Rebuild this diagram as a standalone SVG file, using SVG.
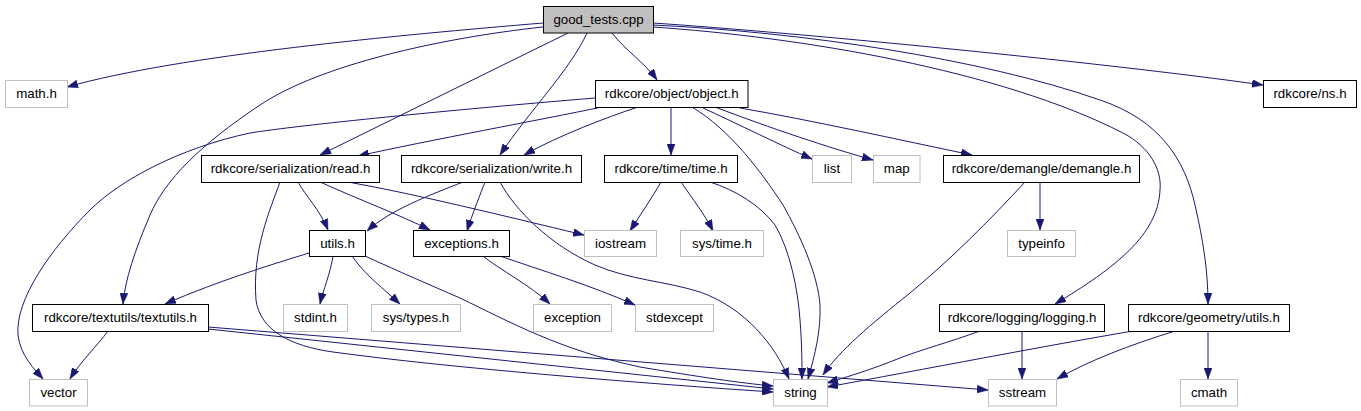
<svg xmlns="http://www.w3.org/2000/svg" width="1361" height="411" viewBox="0 0 1361 411">
<style>
.n rect{fill:#ffffff;stroke:#000000;stroke-width:1}
.n.g rect{stroke:#bfbfbf}
.n.root rect{fill:#bfbfbf;stroke:#000000}
.n text{font-family:"Liberation Sans",Arial,Helvetica,sans-serif;font-size:13.3px;fill:#000000;text-anchor:middle}
.e path{fill:none;stroke:#191970;stroke-width:1;marker-end:url(#ah)}
</style>
<defs>
<marker id="ah" viewBox="0 0 11 8" refX="11" refY="4" markerWidth="11" markerHeight="8" markerUnits="userSpaceOnUse" orient="auto">
<polygon points="0,0 11,4 0,8" fill="#191970" stroke="#191970" stroke-width="0.5"/>
</marker>
</defs>
<rect x="0" y="0" width="1361" height="411" fill="#ffffff"/>
<g id="edges" class="e">
<path d="M543,23 C400,35 180,55 67,87"/>
<path d="M543,27 C440,38 320,65 260,105 C200,145 165,180 150,215 C135,250 125,280 123,304"/>
<path d="M568,33 L320,155"/>
<path d="M587,33 C570,70 530,110 500,155"/>
<path d="M612,33 C625,50 645,63 657,80"/>
<path d="M653,23 C800,33 1100,62 1263,85"/>
<path d="M653,25 C800,32 980,58 1100,100 C1160,120 1185,160 1195,205 C1203,240 1208,270 1208,304"/>
<path d="M653,27 C800,37 1000,70 1123,133 C1150,147 1162,170 1160,190 C1158,235 1115,268 1055,304"/>
<path d="M595,98 C450,110 300,125 250,133 C180,148 120,180 90,210 C50,250 15,300 18,335 C20,355 35,370 43,379"/>
<path d="M602,107 C540,120 430,140 358,156"/>
<path d="M638,107 C605,118 560,135 524,155"/>
<path d="M671,107 L671,155"/>
<path d="M692,107 C730,130 760,170 783,205 C800,235 818,275 820,305 C821,330 815,355 808,379"/>
<path d="M701,107 C740,125 780,145 812,159"/>
<path d="M715,107 C770,128 830,148 873,160"/>
<path d="M740,108 C810,120 900,140 972,155"/>
<path d="M661,182 C652,198 640,215 630,231"/>
<path d="M681,182 C692,198 705,215 713,231"/>
<path d="M710,182 C735,190 760,205 775,225 C790,250 798,290 800,320 C802,345 802,365 802,379"/>
<path d="M1040,182 L1040,230"/>
<path d="M1025,182 C990,220 950,260 910,293 C870,325 840,350 823,375"/>
<path d="M298,182 C305,195 320,210 328,230"/>
<path d="M320,182 C360,200 400,215 430,230"/>
<path d="M348,182 C420,195 500,215 584,235"/>
<path d="M280,182 C270,210 252,250 256,300 C260,330 290,346 333,352 C450,368 650,384 773,392"/>
<path d="M463,182 C430,195 390,210 367,231"/>
<path d="M485,182 C480,195 472,215 467,231"/>
<path d="M500,182 C515,210 550,245 595,265 C630,280 665,281 700,292 C745,308 775,345 789,379"/>
<path d="M483,256 C500,270 530,285 550,304"/>
<path d="M500,256 C540,270 590,285 635,305"/>
<path d="M309,253 C280,262 220,280 165,304"/>
<path d="M333,256 C330,275 323,290 320,304"/>
<path d="M352,256 C365,275 385,290 400,304"/>
<path d="M365,256 C400,272 430,285 460,298 C510,322 560,350 640,367 C700,377 740,383 773,386"/>
<path d="M108,331 C98,345 80,362 70,379"/>
<path d="M208,329 L773,389"/>
<path d="M208,327 L988,390"/>
<path d="M980,331 C950,342 920,350 900,358 C870,370 850,376 827,383"/>
<path d="M1133,331 C1050,345 920,370 827,387"/>
<path d="M1022,331 L1022,379"/>
<path d="M1175,331 C1130,345 1090,360 1057,379"/>
<path d="M1208,331 L1208,379"/>
</g>
<g id="n_good_tests" class="n root"><rect x="543.5" y="6.5" width="110" height="26.5"/><text x="598.5" y="24">good_tests.cpp</text></g>
<g id="n_math" class="n g"><rect x="5.5" y="80.5" width="62" height="27"/><text x="36.5" y="98">math.h</text></g>
<g id="n_object" class="n"><rect x="595.5" y="80.5" width="152.5" height="27"/><text x="671.75" y="98">rdkcore/object/object.h</text></g>
<g id="n_ns" class="n"><rect x="1263.5" y="80.5" width="93" height="27"/><text x="1310" y="98">rdkcore/ns.h</text></g>
<g id="n_read" class="n"><rect x="201.5" y="155.5" width="178" height="27"/><text x="290.5" y="173">rdkcore/serialization/read.h</text></g>
<g id="n_write" class="n"><rect x="401.5" y="155.5" width="180" height="27"/><text x="491.5" y="173">rdkcore/serialization/write.h</text></g>
<g id="n_time" class="n"><rect x="604.5" y="155.5" width="133" height="27"/><text x="671" y="173">rdkcore/time/time.h</text></g>
<g id="n_list" class="n g"><rect x="812.5" y="155.5" width="39" height="27"/><text x="832" y="173">list</text></g>
<g id="n_map" class="n g"><rect x="873.5" y="155.5" width="46.5" height="27"/><text x="896.75" y="173">map</text></g>
<g id="n_demangle" class="n"><rect x="943.5" y="155.5" width="196" height="27"/><text x="1041.5" y="173">rdkcore/demangle/demangle.h</text></g>
<g id="n_utils" class="n"><rect x="309.5" y="230.5" width="56" height="26"/><text x="337.5" y="248">utils.h</text></g>
<g id="n_exceptions" class="n"><rect x="413.5" y="230.5" width="96" height="26"/><text x="461.5" y="248">exceptions.h</text></g>
<g id="n_iostream" class="n g"><rect x="584.5" y="230.5" width="72" height="26"/><text x="620.5" y="248">iostream</text></g>
<g id="n_systime" class="n g"><rect x="680.5" y="230.5" width="83" height="26"/><text x="722" y="248">sys/time.h</text></g>
<g id="n_typeinfo" class="n g"><rect x="1007.5" y="230.5" width="68" height="26"/><text x="1041.5" y="248">typeinfo</text></g>
<g id="n_textutils" class="n"><rect x="32.5" y="304.5" width="176" height="27"/><text x="120.5" y="322">rdkcore/textutils/textutils.h</text></g>
<g id="n_stdint" class="n g"><rect x="283.5" y="304.5" width="64" height="27"/><text x="315.5" y="322">stdint.h</text></g>
<g id="n_systypes" class="n g"><rect x="371.5" y="304.5" width="89" height="27"/><text x="416" y="322">sys/types.h</text></g>
<g id="n_exception" class="n g"><rect x="533.5" y="304.5" width="78" height="27"/><text x="572.5" y="322">exception</text></g>
<g id="n_stdexcept" class="n g"><rect x="635.5" y="304.5" width="78" height="27"/><text x="674.5" y="322">stdexcept</text></g>
<g id="n_logging" class="n"><rect x="939.5" y="304.5" width="165" height="27"/><text x="1022" y="322">rdkcore/logging/logging.h</text></g>
<g id="n_geometry" class="n"><rect x="1128.5" y="304.5" width="161" height="27"/><text x="1209" y="322">rdkcore/geometry/utils.h</text></g>
<g id="n_vector" class="n g"><rect x="29.5" y="379.5" width="58" height="26.5"/><text x="58.5" y="397">vector</text></g>
<g id="n_string" class="n g"><rect x="773.5" y="379.5" width="54" height="26.5"/><text x="800.5" y="397">string</text></g>
<g id="n_sstream" class="n g"><rect x="988.5" y="379.5" width="68" height="26.5"/><text x="1022.5" y="397">sstream</text></g>
<g id="n_cmath" class="n g"><rect x="1180.5" y="379.5" width="57" height="26.5"/><text x="1209" y="397">cmath</text></g>
</svg>
